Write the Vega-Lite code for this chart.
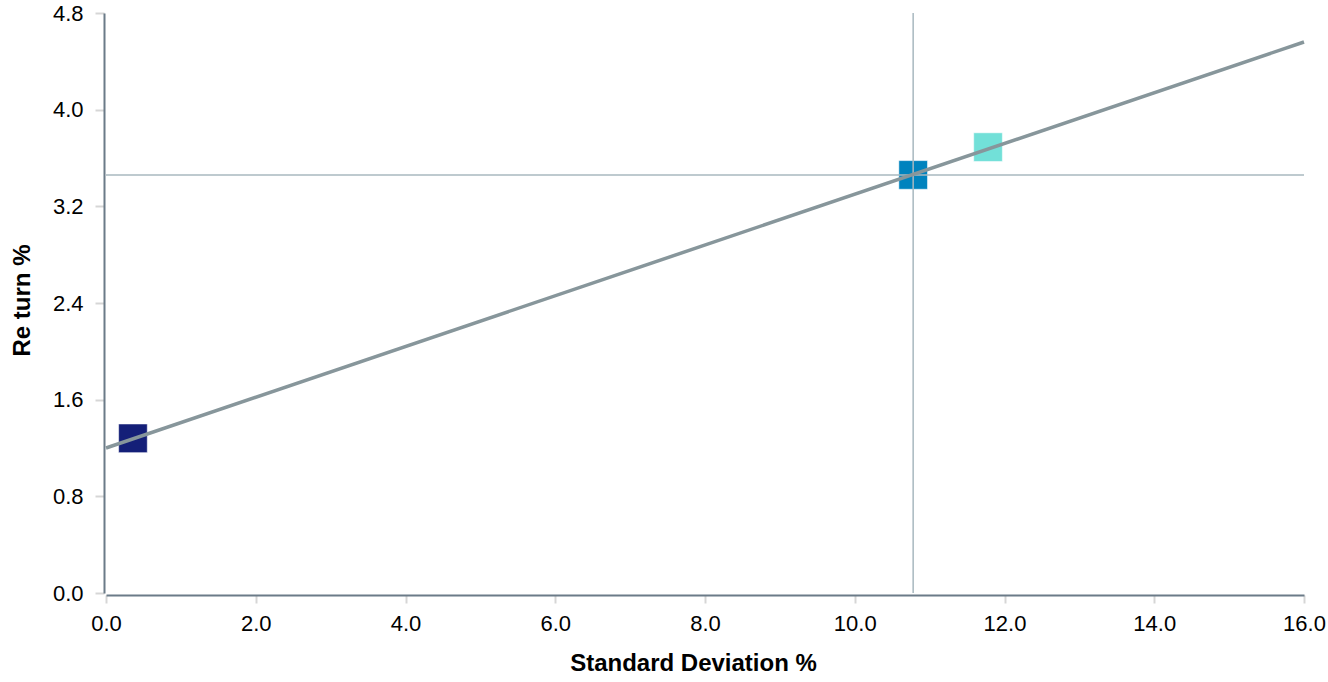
{
  "$schema": "https://vega.github.io/schema/vega-lite/v6.json",
  "width": 1198,
  "height": 580,
  "autosize": {"type": "none"},
  "padding": {"left": 106, "top": 13, "right": 24, "bottom": 89},
  "config": {
    "view": {"stroke": null},
    "font": "Liberation Sans",
    "axis": {
      "grid": false,
      "domainColor": "#6b7b88",
      "domainWidth": 2,
      "tickColor": "#d6d6d6",
      "tickWidth": 2,
      "tickSize": 8,
      "labelFont": "Liberation Sans",
      "labelFontSize": 22,
      "labelColor": "#000000",
      "labelFlush": false,
      "titleFont": "Liberation Sans",
      "titleFontSize": 24,
      "titleFontWeight": "bold",
      "titleColor": "#000000"
    }
  },
  "datasets": {
    "points": [
      {"sd": 0.36, "ret": 1.28, "name": "A"},
      {"sd": 10.78, "ret": 3.46, "name": "B"},
      {"sd": 11.78, "ret": 3.69, "name": "C"}
    ],
    "cml": [
      {"sd": 0, "ret": 1.2},
      {"sd": 16, "ret": 4.56}
    ],
    "cross": [
      {"sd": 10.78, "ret": 3.46}
    ]
  },
  "layer": [
    {
      "data": {"name": "points"},
      "mark": {"type": "square", "size": 820, "opacity": 1, "filled": true, "stroke": "#ffffff", "strokeWidth": 0.5},
      "encoding": {
        "x": {
          "field": "sd", "type": "quantitative",
          "scale": {"domain": [0, 16], "nice": false, "zero": true},
          "axis": {"values": [0, 2, 4, 6, 8, 10, 12, 14, 16], "format": ".1f", "title": "Standard Deviation %", "titlePadding": 17, "titleX": 587, "labelPadding": 10, "offset": 2, "tickSize": 8}
        },
        "y": {
          "field": "ret", "type": "quantitative",
          "scale": {"domain": [0, 4.8], "nice": false},
          "axis": {"values": [0, 0.8, 1.6, 2.4, 3.2, 4.0, 4.8], "format": ".1f", "title": "Re turn %", "titlePadding": 18, "titleY": 287, "labelPadding": 12, "offset": 2, "tickSize": 9}
        },
        "color": {
          "field": "name", "type": "nominal",
          "scale": {"domain": ["A", "B", "C"], "range": ["#141f78", "#0083be", "#72e0d8"]},
          "legend": null
        }
      }
    },
    {
      "data": {"name": "cross"},
      "mark": {"type": "rule", "color": "#a8b8bf", "strokeWidth": 1.5},
      "encoding": {"x": {"field": "sd", "type": "quantitative"}}
    },
    {
      "data": {"name": "cross"},
      "mark": {"type": "rule", "color": "#a8b8bf", "strokeWidth": 1.5},
      "encoding": {"y": {"field": "ret", "type": "quantitative"}}
    },
    {
      "data": {"name": "cml"},
      "mark": {"type": "line", "color": "#87969b", "strokeWidth": 3.5},
      "encoding": {
        "x": {"field": "sd", "type": "quantitative"},
        "y": {"field": "ret", "type": "quantitative"}
      }
    }
  ]
}
